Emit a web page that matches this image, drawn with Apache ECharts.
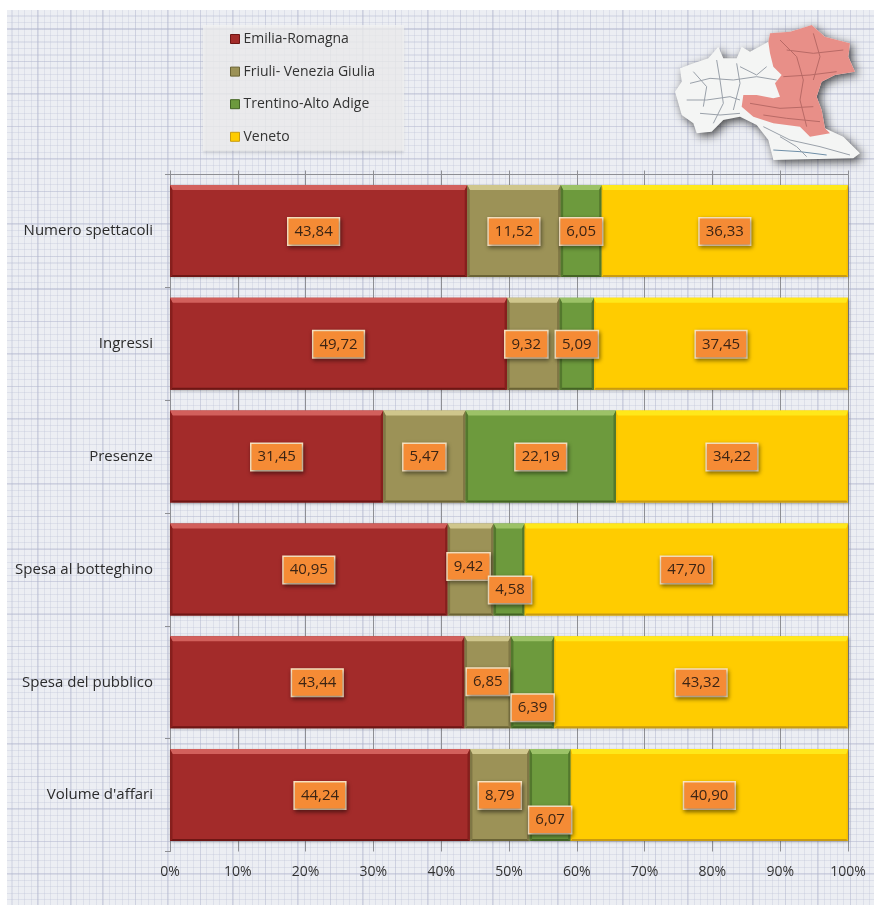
<!DOCTYPE html>
<html><head><meta charset="utf-8">
<style>
html,body{margin:0;padding:0;background:#fff;width:874px;height:907px;overflow:hidden}
#frame{position:absolute;left:7px;top:10px;width:867px;height:895px;overflow:hidden}
#paper{position:absolute;left:-2px;top:-2px;width:871px;height:899px;background-color:#eceef3;filter:blur(.7px);
background-image:
 repeating-linear-gradient(90deg,rgba(170,175,200,.30) 0 1.5px,transparent 1.5px 32.5px),
 repeating-linear-gradient(0deg,rgba(170,175,200,.30) 0 1.5px,transparent 1.5px 32.5px),
 repeating-linear-gradient(90deg,rgba(185,190,212,.30) 0 1px,transparent 1px 6.5px),
 repeating-linear-gradient(0deg,rgba(185,190,212,.30) 0 1px,transparent 1px 6.5px);}
#chart{position:absolute;left:0;top:0;width:874px;height:907px}
</style>
<script src="https://cdn.jsdelivr.net/npm/echarts@6/dist/echarts.min.js"></script>
</head><body><div id="frame"><div id="paper"></div></div><div id="chart"></div>
<script>
const categories = ['Numero spettacoli','Ingressi','Presenze','Spesa al botteghino','Spesa del pubblico',"Volume d'affari"];
const regions = ['Emilia-Romagna','Friuli- Venezia Giulia','Trentino-Alto Adige','Veneto'];
// bar lengths as drawn in the picture
const emilia  = [43.84,49.72,31.45,40.95,43.44,44.24];
const friuli  = [13.78,7.74,12.14,6.77,6.85,8.79];
const trentino= [6.05,5.09,22.19,4.58,6.39,6.07];
const veneto  = [36.33,37.45,34.22,47.70,43.32,40.90];
// numbers printed on the bars
const emiliaText  = ['43,84','49,72','31,45','40,95','43,44','44,24'];
const friuliText  = ['11,52','9,32','5,47','9,42','6,85','8,79'];
const trentinoText= ['6,05','5,09','22,19','4,58','6,39','6,07'];
const venetoText  = ['36,33','37,45','34,22','47,70','43,32','40,90'];
const tickValues = [0,100];

const values=[emilia,friuli,trentino,veneto];
const texts=[emiliaText,friuliText,trentinoText,venetoText];
const palette=[
 {main:'#a32b2a',top:'#d2605c',side:'#861f1d',dark:'#6e1614'},
 {main:'#9c9257',top:'#cfc68c',side:'#7f7745',dark:'#6a6335'},
 {main:'#6d9a3d',top:'#9cc267',side:'#53782d',dark:'#446424'},
 {main:'#ffcc00',top:'#ffe81a',side:'#f5c000',dark:'#c99b10'}];
// label shifts for the crowded cells: [series,row,dx,dy]
const labelNudges=[[0,0,-5,0],[1,1,-7,0],[1,3,-2,-3.5],[2,3,1,20],[1,4,0,-1],[2,4,0,25],[2,5,0,24.5]];
const nudge=(s,r)=>{const n=labelNudges.find(a=>a[0]===s&&a[1]===r);return n?[n[2],n[3]]:[0,0];};

const segs=[];
categories.forEach((c,r)=>{let acc=0;values.forEach((v,s)=>{segs.push([acc,acc+v[r],r,s]);acc+=v[r];});});

const barRatio=0.815;
function renderBevel(p,api){
  const a=api.value(0),b=api.value(1),r=api.value(2),s=api.value(3);
  const pa=api.coord([a,r]),pb=api.coord([b,r]);
  const h=api.size([0,1])[1]*barRatio;
  const x0=pa[0],x1=pb[0],y0=pa[1]-h/2,y1=pa[1]+h/2,c=palette[s],t=5,e=s===3?1.5:2.5,bt=2;
  const poly=(pts,fill)=>({type:'polygon',silent:true,shape:{points:pts},style:{fill}});
  return {type:'group',children:[
    poly([[x0,y0],[x1,y0],[x1-e,y0+t],[x0+e,y0+t]],c.top),
    poly([[x0,y1],[x1,y1],[x1-e,y1-bt],[x0+e,y1-bt]],c.dark),
    poly([[x0,y0],[x0+e,y0+t],[x0+e,y1-bt],[x0,y1]],c.side),
    poly([[x1,y0],[x1-e,y0+t],[x1-e,y1-bt],[x1,y1]],c.side)
  ]};
}
function renderLabel(p,api){
  const a=api.value(0),b=api.value(1),r=api.value(2),s=api.value(3);
  const pt=api.coord([(a+b)/2,r]),n=nudge(s,r);
  return {type:'text',silent:true,style:{
    text:texts[s][r],x:pt[0]+n[0],y:pt[1]+n[1]+.5,align:'center',verticalAlign:'middle',
    fill:'#3b2414',font:'500 15px "Open Sans"',backgroundColor:'#f58b35',
    borderColor:'#fbe6c4',borderWidth:1.5,padding:[6,6,5,6],
    shadowBlur:4,shadowColor:'rgba(0,0,0,.4)',shadowOffsetX:1,shadowOffsetY:2}};
}
const S=(pts)=>pts.map(q=>[640+q[0]/3,q[1]/3]);
const outline=S([[105,275],[125,245],[120,205],[160,190],[205,175],[235,140],[250,175],[290,175],[305,140],[330,155],[385,125],[390,100],[450,95],[515,75],[555,110],[630,130],[625,170],[645,215],[585,225],[545,245],[530,290],[545,330],[555,385],[610,410],[660,460],[640,475],[500,478],[400,480],[385,420],[350,375],[300,350],[250,360],[215,395],[170,400],[160,370],[125,345],[115,310]]);
const pink=S([[385,125],[390,100],[450,95],[515,75],[555,110],[630,130],[625,170],[645,215],[585,225],[545,245],[530,290],[545,330],[555,385],[570,400],[510,410],[480,380],[400,370],[340,350],[305,320],[310,285],[350,285],[400,295],[420,290],[405,250],[425,225],[400,200],[390,160]]);
const grey='#9aa1aa',rose='#b96a66';
const roads=[
 {c:grey,p:[[150,250],[210,235],[280,240],[350,230],[410,240]]},
 {c:grey,p:[[140,300],[200,300],[270,290],[300,300]]},
 {c:grey,p:[[230,180],[240,240],[250,310],[220,370]]},
 {c:grey,p:[[180,340],[240,345],[300,340]]},
 {c:grey,p:[[160,215],[200,260],[190,320]]},
 {c:grey,p:[[290,190],[300,250],[280,330]]},
 {c:grey,p:[[370,380],[450,420],[540,440],[630,465]]},
 {c:'#6f8fa8',p:[[400,450],[480,455],[560,465]]},
 {c:grey,p:[[420,410],[470,440],[500,470]]},
 {c:grey,p:[[300,200],[350,225],[380,200]]},
 {c:rose,p:[[420,120],[470,170],[490,240],[480,300],[500,380]]},
 {c:rose,p:[[520,100],[540,170],[520,240]]},
 {c:rose,p:[[440,150],[520,160],[610,150]]},
 {c:rose,p:[[430,230],[510,225],[590,215]]},
 {c:rose,p:[[330,310],[420,325],[520,320]]},
 {c:rose,p:[[370,345],[440,355],[540,365]]}
];
const chart=echarts.init(document.getElementById('chart'),null,{renderer:'canvas'});
chart.setOption({
  animation:false,
  backgroundColor:'transparent',
  textStyle:{fontFamily:'"Open Sans"'},
  grid:{left:170,right:26,top:174.5,height:677,containLabel:false},
  legend:{orient:'vertical',left:203,top:25,data:regions.map((n,i)=>({name:n,itemStyle:{color:palette[i].main,borderColor:palette[i].dark,borderWidth:1}})),
    icon:'rect',itemWidth:9,itemHeight:9,itemGap:18.6,selectedMode:false,
    padding:[7,29,7,27],backgroundColor:'rgba(243,243,243,.72)',shadowColor:'rgba(120,120,120,.3)',shadowBlur:3,shadowOffsetY:2,
    textStyle:{fontSize:14,fontWeight:500,color:'#333',padding:[0,0,0,-1]}},
  xAxis:[
   {type:'value',min:tickValues[0],max:tickValues[1],interval:10,position:'bottom',
    axisLine:{show:false},axisTick:{show:false},
    axisLabel:{formatter:'{value}%',fontSize:14,fontWeight:500,color:'#333',margin:14},
    splitLine:{show:true,lineStyle:{color:'#8e8f94',width:1}}},
   {type:'value',min:tickValues[0],max:tickValues[1],interval:10,position:'top',
    axisLine:{show:true,lineStyle:{color:'#8e8f94',width:1}},axisTick:{show:true,length:4,lineStyle:{color:'#8e8f94'}},
    axisLabel:{show:false},splitLine:{show:false}}],
  yAxis:{type:'category',inverse:true,data:categories,
    axisLine:{show:true,onZero:false,lineStyle:{color:'#8e8f94'}},axisTick:{show:true,length:5,lineStyle:{color:'#8e8f94'}},
    axisLabel:{fontSize:15,fontWeight:500,color:'#2b2b2b',margin:17,padding:[3,0,0,0]},splitLine:{show:false}},
  series:[
   ...regions.map((n,i)=>({name:n,type:'bar',stack:'tot',barWidth:(barRatio*100)+'%',data:values[i],z:2,
     itemStyle:{color:palette[i].main,shadowBlur:3,shadowColor:'rgba(0,0,0,.35)',shadowOffsetY:1,shadowOffsetX:1}})),
   {name:'rilievo',type:'custom',renderItem:renderBevel,data:segs,z:3,silent:true,encode:{x:[0,1],y:2}},
   {name:'etichette',type:'custom',renderItem:renderLabel,data:segs,z:4,silent:true,encode:{x:[0,1],y:2}}
  ],
  graphic:[
   {type:'polygon',silent:true,shape:{points:outline},style:{fill:'#f4f5f4',shadowBlur:10,shadowColor:'rgba(30,30,30,.8)',shadowOffsetX:3,shadowOffsetY:3}},
   {type:'polygon',silent:true,shape:{points:pink},style:{fill:'#e88f88'}},
   ...roads.map(r=>({type:'polyline',silent:true,shape:{points:S(r.p)},style:{stroke:r.c,lineWidth:1,fill:null}}))
  ]
});
</script></body></html>
